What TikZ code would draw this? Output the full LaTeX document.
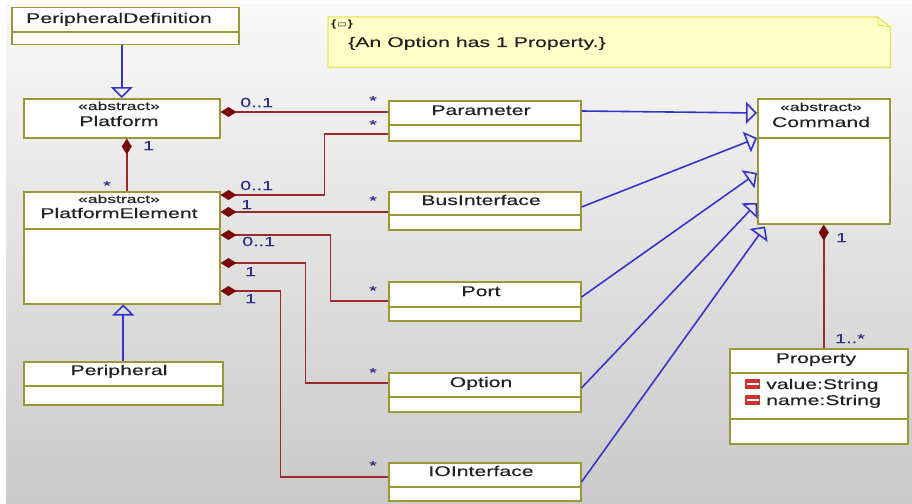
\documentclass[tikz,border=0pt]{standalone}
\usepackage{fontspec}
\setmainfont{Liberation Sans}[FakeStretch=1.52, FakeBold=0.3]
\newfontfamily\iconfont{DejaVu Sans}
\usetikzlibrary{arrows.meta}
\definecolor{boxline}{HTML}{999933}
\definecolor{compred}{HTML}{9C2A2A}
\definecolor{diamred}{HTML}{7A0A0A}
\definecolor{genblue}{HTML}{3535CC}
\definecolor{multblue}{HTML}{2E2E85}
\definecolor{notefill}{HTML}{FFFFC8}
\definecolor{noteline}{HTML}{E6E65A}
\definecolor{txt}{HTML}{222222}
\definecolor{attrred}{HTML}{C8322A}
\newcommand\clsdiv[2]{\draw[divider] ([yshift=-#2pt]#1.north west) -- ([yshift=-#2pt]#1.north east);}
\begin{document}
\begin{tikzpicture}[x=1pt,y=-1pt,
  cls/.style={draw=boxline, line width=1.5pt, fill=white, rectangle, inner sep=0pt, anchor=north west},
  clsname/.style={text=txt, font=\fontsize{14}{14}\selectfont, inner sep=0pt, anchor=base},
  stereo/.style={text=txt, font=\fontsize{11.5}{12}\selectfont, inner sep=0pt, anchor=base},
  divider/.style={draw=boxline, line width=1.3pt},
  comp/.style={draw=compred, line width=1.6pt, {Diamond[length=16pt,width=10pt,fill=diamred,color=diamred]}-},
  gen/.style={draw=genblue, line width=1.6pt, -{Triangle[open,length=11pt,width=22pt]}},
  mult/.style={text=multblue, font=\fontsize{13}{13}\selectfont, inner sep=0pt},
]
\useasboundingbox (0,0) rectangle (912,503);
\fill[white] (0,0) rectangle (912,503);
\shade[top color=gray!5, bottom color=gray!42] (6,5) rectangle (912,503);

% note
\node[inner sep=0pt, minimum width=562pt, minimum height=50pt, anchor=north west] (note) at (328,17) {};
\filldraw[fill=notefill, draw=noteline, line width=1.3pt] (note.north west) -- ([xshift=-13pt]note.north east) -- ([yshift=-10pt]note.north east) -- (note.south east) -- (note.south west) -- cycle;
\draw[noteline, line width=1pt] ([xshift=-13pt]note.north east) -- ([xshift=-12pt,yshift=-8pt]note.north east) -- ([yshift=-10pt]note.north east);
\node[anchor=base west, inner sep=0pt, font=\iconfont\bfseries\fontsize{10}{10}\selectfont, text=txt] (noteicon) at (330,28) {\{▭\}};
\node[anchor=base west, inner sep=0pt, font=\fontsize{14}{14}\selectfont, text=txt] (notetext) at (348,47) {\{An Option has 1 Property.\}};

% classes
\node[cls, minimum width=227pt, minimum height=37pt] (pdef) at (11,7) {};
\clsdiv{pdef}{25}
\node[clsname] (pdef-n) at (119,23) {PeripheralDefinition};

\node[cls, minimum width=196pt, minimum height=39pt] (plat) at (23,98) {};
\node[stereo] (plat-s) at (119,110) {«abstract»};
\node[clsname] (plat-n) at (119,126) {Platform};

\node[cls, minimum width=196pt, minimum height=112pt] (pelem) at (23,191) {};
\clsdiv{pelem}{38}
\node[stereo] (pelem-s) at (119,203) {«abstract»};
\node[clsname] (pelem-n) at (119,218) {PlatformElement};

\node[cls, minimum width=199pt, minimum height=43pt] (periph) at (23,361) {};
\clsdiv{periph}{25}
\node[clsname] (periph-n) at (119,375) {Peripheral};

\node[cls, minimum width=192pt, minimum height=40pt] (param) at (388,100) {};
\clsdiv{param}{25}
\node[clsname] (param-n) at (481,115) {Parameter};

\node[cls, minimum width=192pt, minimum height=38pt] (bus) at (388,191) {};
\clsdiv{bus}{24}
\node[clsname] (bus-n) at (481,205) {BusInterface};

\node[cls, minimum width=192pt, minimum height=39pt] (port) at (388,281) {};
\clsdiv{port}{26}
\node[clsname] (port-n) at (481,296) {Port};

\node[cls, minimum width=192pt, minimum height=39pt] (option) at (388,372) {};
\clsdiv{option}{25}
\node[clsname] (option-n) at (481,387) {Option};

\node[cls, minimum width=192pt, minimum height=38pt] (ioi) at (388,462) {};
\clsdiv{ioi}{25}
\node[clsname] (ioi-n) at (481,476) {IOInterface};

\node[cls, minimum width=132pt, minimum height=125pt] (cmd) at (757,98) {};
\clsdiv{cmd}{40}
\node[stereo] (cmd-s) at (821,111) {«abstract»};
\node[clsname] (cmd-n) at (821,127) {Command};

\node[cls, minimum width=178pt, minimum height=95pt] (prop) at (729,348) {};
\clsdiv{prop}{25}
\clsdiv{prop}{71}
\node[clsname] (prop-n) at (816,363) {Property};
\fill[attrred] (745,379) rectangle (760,389);
\draw[white, line width=1.3pt] (746.5,384) -- (758.5,384);
\fill[attrred] (745,395) rectangle (760,405);
\draw[white, line width=1.3pt] (746.5,400) -- (758.5,400);
\node[clsname, anchor=base west] (prop-a1) at (766,389) {value:String};
\node[clsname, anchor=base west] (prop-a2) at (766,405) {name:String};

% generalizations
\draw[gen] (plat.north |- pdef.south) -- (plat.north);
\draw[gen] (periph.north) -- (periph.north |- pelem.south);
\draw[gen] ([yshift=-11pt]param.north east) -- ([yshift=-15pt]cmd.north west);
\draw[gen] ([yshift=-16pt]bus.north east) -- ([yshift=-40pt]cmd.north west);
\draw[gen] ([yshift=-16pt]port.north east) -- ([yshift=-75pt]cmd.north west);
\draw[gen] ([yshift=-16pt]option.north east) -- ([yshift=-105pt]cmd.north west);
\draw[gen] ([yshift=-20pt]ioi.north east) -- ([xshift=8pt,yshift=-2pt]cmd.south west);

% compositions
\draw[comp] ([xshift=5pt]plat.south) -- ([xshift=5pt]pelem.north);
\draw[comp] ([yshift=-14pt]plat.north east) -- ([yshift=-12pt]param.north west);
\draw[comp] ([yshift=-4pt]pelem.north east) -- ++(104,0) |- ([yshift=-34pt]param.north west);
\draw[comp] ([yshift=-21pt]pelem.north east) -- ([yshift=-21pt]bus.north west);
\draw[comp] ([yshift=-44pt]pelem.north east) -- ++(110,0) |- ([yshift=-20pt]port.north west);
\draw[comp] ([yshift=-72pt]pelem.north east) -- ++(85,0) |- ([yshift=-11pt]option.north west);
\draw[comp] ([yshift=-100pt]pelem.north east) -- ++(60,0) |- ([yshift=-15pt]ioi.north west);
\draw[comp] (cmd.south) -- (cmd.south |- prop.north);

% multiplicities
\node[mult, anchor=base west] (m1) at (240,107) {0..1};
\node[mult, anchor=base west] (m2) at (143,150) {1};
\node[mult, anchor=base] (m3) at (107,190) {*};
\node[mult, anchor=base] (m4) at (373,105) {*};
\node[mult, anchor=base] (m5) at (373,129) {*};
\node[mult, anchor=base west] (m6) at (240,190) {0..1};
\node[mult, anchor=base west] (m7) at (241,209) {1};
\node[mult, anchor=base] (m8) at (373,205) {*};
\node[mult, anchor=base west] (m9) at (242,246) {0..1};
\node[mult, anchor=base] (m10) at (373,295) {*};
\node[mult, anchor=base west] (m11) at (245,276) {1};
\node[mult, anchor=base] (m12) at (373,377) {*};
\node[mult, anchor=base west] (m13) at (245,303) {1};
\node[mult, anchor=base] (m14) at (373,470) {*};
\node[mult, anchor=base west] (m15) at (836,242) {1};
\node[mult, anchor=base west] (m16) at (835,343) {1..*};
\end{tikzpicture}
\end{document}
